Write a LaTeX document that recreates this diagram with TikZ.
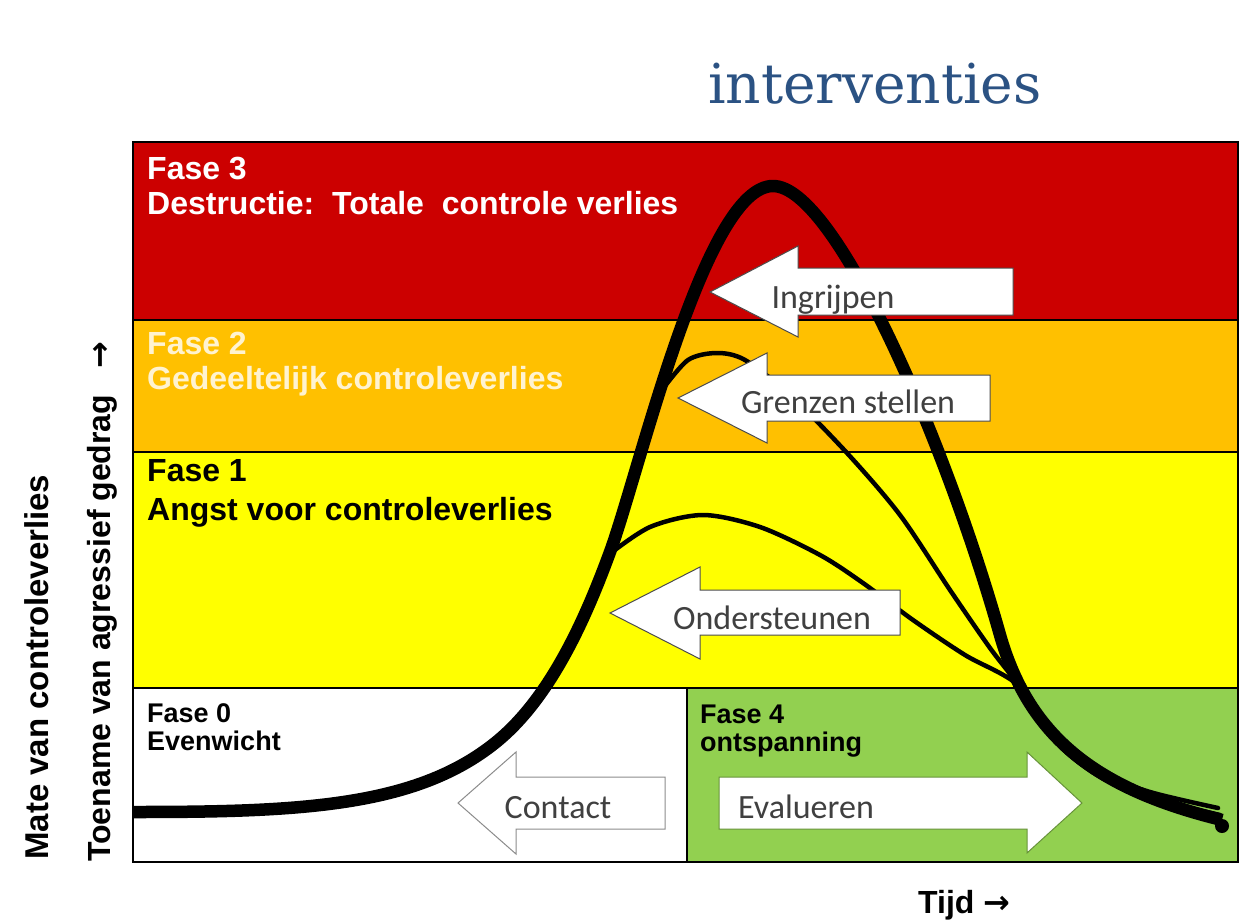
\documentclass[tikz,border=0pt]{standalone}
\usepackage{fontspec}
\setmainfont{Liberation Sans}
\newfontfamily\pijlfont{Carlito}
\newfontfamily\titelfont{DejaVu Serif}
\newfontfamily\tekens{DejaVu Sans}

\definecolor{fase3}{HTML}{CC0000}
\definecolor{fase2}{HTML}{FFC000}
\definecolor{fase1}{HTML}{FFFF00}
\definecolor{fase4}{HTML}{92D050}
\definecolor{titelblauw}{HTML}{2B5283}
\definecolor{pijlgrijs}{HTML}{404040}
\definecolor{creme}{HTML}{FFF3D0}

\begin{document}
\begin{tikzpicture}[
			x=1pt, y=-1pt,
			band/.style={draw=black, line width=1.5pt},
			fase/.style={anchor=north west, inner sep=0pt, align=left,
			font=\bfseries\fontsize{32}{35}\selectfont},
			faseklein/.style={fase, font=\bfseries\fontsize{27}{28}\selectfont},
			as/.style={inner sep=0pt, rotate=90, anchor=base west,
			font=\bfseries\fontsize{32}{36}\selectfont},
			pijl/.style={fill=white, draw=black!70, line width=1pt},
			pijltekst/.style={anchor=base, inner sep=0pt, text=pijlgrijs,
			font=\pijlfont\fontsize{34}{40}\selectfont},
			dik/.style={line width=12.5pt, line join=round},
			dun/.style={line width=4.5pt, line cap=round}
			]
			\useasboundingbox (0,0) rectangle (1248,921);
			\fill[white] (0,0) rectangle (1248,921);

			% fasen als horizontale banden
			\fill[fase3] (133,142) rectangle (1238,320);
			\fill[fase2] (133,320) rectangle (1238,452);
			\fill[fase1] (133,452) rectangle (1238,688);
			\fill[white] (133,688) rectangle (687,862);
			\fill[fase4] (687,688) rectangle (1238,862);
			\draw[band] (133,320) -- (1238,320);
			\draw[band] (133,452) -- (1238,452);
			\draw[band] (133,688) -- (1238,688);
			\draw[band] (687,688) -- (687,862);

			\node[fase, text=white] (f3) at (147,157) {Fase 3\\Destructie:\ \ Totale\ \ controle verlies};
			\node[fase, text=creme] (f2) at (147,332) {Fase 2\\Gedeeltelijk controleverlies};
			\node[fase, font=\bfseries\fontsize{32}{39}\selectfont] (f1) at (147,459) {Fase 1\\Angst voor controleverlies};
			\node[faseklein] (f0) at (147,703) {Fase 0\\Evenwicht};
			\node[faseklein] (f4) at (700,705) {Fase 4\\ontspanning};

			% verloop van de agressie
			\draw[dik] (134,812) .. controls (300,812) and (415,807) .. (495,743)
				.. controls (550,699) and (585,620) .. (610,552)
				.. controls (640,470) and (705,186) .. (773,186)
				.. controls (835,186) and (945,440) .. (1000,635)
				.. controls (1030,740) and (1100,790) .. (1222,820);
			\draw[dun] plot[smooth] coordinates {(662,390) (688,360) (717,353)
				(745,360) (790,395) (847,453) (900,515) (950,590) (990,648)
				(1019,686) (1052,738) (1098,772) (1150,792) (1218,808)};
			\draw[dun] plot[smooth] coordinates {(607,556) (650,527) (703,515)
				(760,527) (820,555) (863,583) (913,620) (965,655) (1019,686)
				(1058,744) (1102,778) (1152,798) (1220,815)};
			\fill (1222,826) circle (7);
			\draw[line width=2.5pt] (133,142) rectangle (1238,862);

			% interventies als blokpijlen
			\draw[pijl] (710,292) -- (798,246) -- (798,268) -- (1013,268)
				-- (1013,315) -- (798,315) -- (798,337) -- cycle;
			\node[pijltekst] (ingrijpen) at (833,308) {Ingrijpen};
			\draw[pijl] (678,398) -- (767,353) -- (767,375) -- (990,375)
				-- (990,421) -- (767,421) -- (767,443) -- cycle;
			\node[pijltekst] (grenzen) at (848,413) {Grenzen stellen};
			\draw[pijl] (610,613) -- (700,567) -- (700,590) -- (900,590)
				-- (900,635) -- (700,635) -- (700,659) -- cycle;
			\node[pijltekst] (steunen) at (772,629) {Ondersteunen};
			\draw[pijl, draw=black!45] (458,803) -- (516,752) -- (516,777) -- (665,777)
				-- (665,829) -- (516,829) -- (516,854) -- cycle;
			\node[pijltekst] (contact) at (558,818) {Contact};
			\draw[pijl, draw=fase4!70!black] (719,777) -- (1027,777) -- (1027,752)
				-- (1082,803) -- (1027,853) -- (1027,829) -- (719,829) -- cycle;
			\node[pijltekst] (evalueren) at (806,818) {Evalueren};

			% assen en titel
			\node[as, font=\bfseries\fontsize{33}{36}\selectfont] (mate) at (48,860) {Mate van controleverlies};
			\node[as] (toename) at (110,862) {Toename van agressief gedrag\hspace{26pt}{\tekens →}};
			\node[anchor=base west, inner sep=0pt, font=\bfseries\fontsize{32}{36}\selectfont] (tijd) at (918,913) {Tijd {\tekens →}};
			\node[anchor=base west, inner sep=0pt, text=titelblauw,
				font=\titelfont\fontsize{55}{60}\selectfont] (titel) at (708,103) {interventies};
		\end{tikzpicture}
\end{document}
